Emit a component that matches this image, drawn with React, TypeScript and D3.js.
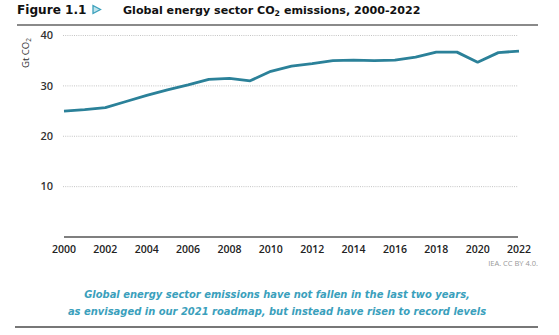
import React from "react";
import * as d3 from "d3";

const years = [2000, 2001, 2002, 2003, 2004, 2005, 2006, 2007, 2008, 2009, 2010, 2011, 2012, 2013, 2014, 2015, 2016, 2017, 2018, 2019, 2020, 2021, 2022];
const emissions = [25.0, 25.3, 25.7, 26.9, 28.1, 29.2, 30.2, 31.3, 31.5, 31.0, 32.9, 33.9, 34.4, 35.0, 35.1, 35.0, 35.1, 35.7, 36.7, 36.7, 34.7, 36.6, 36.9];
const xTicks = [2000, 2002, 2004, 2006, 2008, 2010, 2012, 2014, 2016, 2018, 2020, 2022];
const yTicks = [10, 20, 30, 40];

const W = 559;
const H = 335;

export default function App() {
  const x = d3.scaleLinear().domain([2000, 2022]).range([64, 519]);
  const y = d3.scaleLinear().domain([0, 40]).range([237, 35.5]);
  const line = d3
    .line<number>()
    .x((_, i) => x(years[i]))
    .y((d) => y(d));

  const titleFont = "'DejaVu Sans', sans-serif";
  const axisFont = "'Open Sans', sans-serif";

  return (
    <svg width={W} height={H} style={{ position: "absolute", left: 0, top: 0, background: "#fff" }}>
      <rect x={0} y={0} width={W} height={H} fill="#fff" />
      {/* Title */}
      <text x={17} y={14} fontFamily={titleFont} fontWeight={700} fontSize={12.1} fill="#111">
        Figure 1.1
      </text>
      <path d="M93,5.5 L100.5,9.5 L93,13.5 Z" fill="#bfe3ec" stroke="#3aa0bc" strokeWidth={1.3} />
      <text x={123} y={14} fontFamily={titleFont} fontWeight={700} fontSize={11.1} fill="#111">
        Global energy sector CO<tspan fontSize={7.8} dy={1.5}>2</tspan>
        <tspan dy={-1.5}> emissions, 2000-2022</tspan>
      </text>
      <line x1={17} x2={538} y1={25} y2={25} stroke="#8a8a8a" strokeWidth={1.8} />

      {/* Grid */}
      {yTicks.map((t) => (
        <g key={t}>
          <line x1={63} x2={518} y1={y(t)} y2={y(t)} stroke="#b5b5b5" strokeWidth={0.8} strokeDasharray="1 1.2" />
          <text x={53} y={y(t)} dy="0.35em" textAnchor="end" fontFamily={axisFont} fontWeight={600} fontSize={11} fill="#333">
            {t}
          </text>
        </g>
      ))}
      {/* Y label */}
      <text
        transform="translate(29,53) rotate(-90)"
        textAnchor="middle"
        fontFamily={axisFont}
        fontSize={9.5}
        fill="#333"
      >
        Gt CO<tspan fontSize={6.5} dy={1.5}>2</tspan>
      </text>

      {/* X axis */}
      <line x1={64} x2={518} y1={237} y2={237} stroke="#555" strokeWidth={1.5} />
      {xTicks.map((t) => (
        <text key={t} x={x(t)} y={253} textAnchor="middle" fontFamily={axisFont} fontWeight={600} fontSize={10.5} fill="#222">
          {t}
        </text>
      ))}

      {/* Data line */}
      <path d={line(emissions) || ""} fill="none" stroke="#2b8199" strokeWidth={2.8} strokeLinejoin="round" />

      {/* Source */}
      <text x={538} y={266} textAnchor="end" fontFamily={axisFont} fontSize={7.5} fill="#999">
        IEA. CC BY 4.0.
      </text>

      {/* Caption */}
      <text x={277} y={298} textAnchor="middle" fontFamily={titleFont} fontStyle="italic" fontWeight={700} fontSize={9.95} fill="#3aa0bc">
        Global energy sector emissions have not fallen in the last two years,
      </text>
      <text x={277} y={315} textAnchor="middle" fontFamily={titleFont} fontStyle="italic" fontWeight={700} fontSize={9.95} fill="#3aa0bc">
        as envisaged in our 2021 roadmap, but instead have risen to record levels
      </text>
      <line x1={15} x2={538} y1={327} y2={327} stroke="#777" strokeWidth={2} />
    </svg>
  );
}
